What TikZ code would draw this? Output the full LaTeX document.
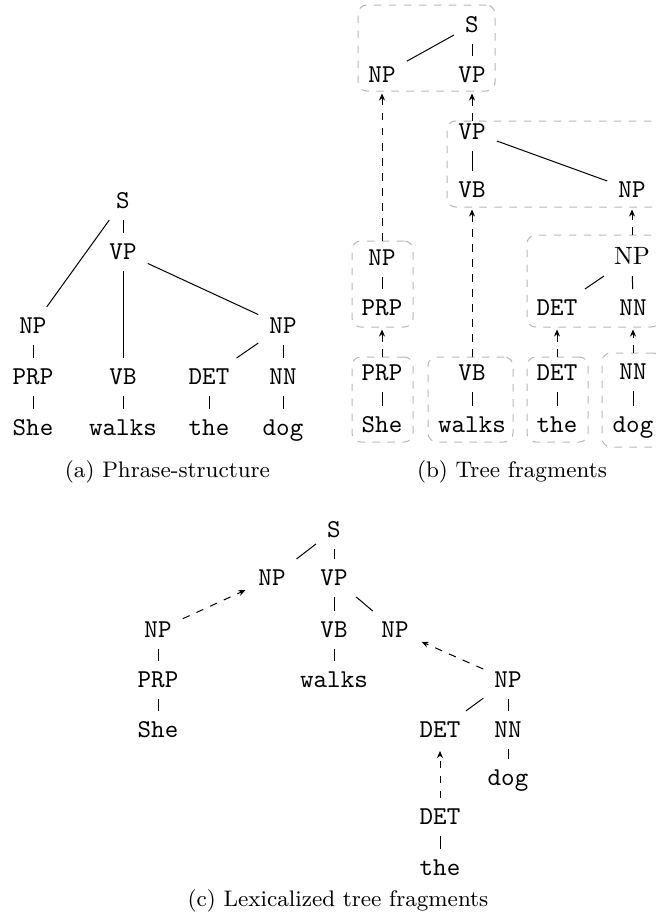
\documentclass[tikz,border=0pt]{standalone}
\usetikzlibrary{arrows.meta,fit}
\begin{document}
\begin{tikzpicture}[x=0.4pt,y=-0.4pt,
  tn/.style={font=\fontsize{10.3}{12}\selectfont\ttfamily, inner sep=4.3pt, text height=6.2pt, text depth=0pt},
  rn/.style={tn, font=\fontsize{10}{12}\selectfont\rmfamily},
  edge/.style={line width=0.4pt},
  darr/.style={line width=0.4pt, dashed, -{Stealth[length=2.8pt,width=2.4pt,inset=0.9pt]}, shorten >=0.8pt},
  fbox/.style={draw=black!28, line width=0.4pt, dashed, rounded corners=3.5pt, inner sep=0pt},
  captext/.style={font=\fontsize{9}{11}\selectfont, anchor=base}]
\useasboundingbox (0,0) rectangle (655,920);

% ---------- (a) ----------
\node[tn] (aS) at (123,201) {S};
\node[tn] (aVP) at (123,252) {VP};
\node[tn] (aNP1) at (33,326) {NP};
\node[tn] (aNP2) at (283,326) {NP};
\node[tn] (aPRP) at (33,377) {PRP};
\node[tn] (aVB) at (123,377) {VB};
\node[tn] (aDET) at (209,377) {DET};
\node[tn] (aNN) at (283,377) {NN};
\node[tn] (aShe) at (33,428) {She};
\node[tn] (awalks) at (123,428) {walks};
\node[tn] (athe) at (209,428) {the};
\node[tn] (adog) at (283,428) {dog};
\draw[edge] (aS) -- (aNP1);
\draw[edge] (aS) -- (aVP);
\draw[edge] (aVP) -- (aVB);
\draw[edge] (aVP) -- (aNP2);
\draw[edge] (aNP1) -- (aPRP);
\draw[edge] (aPRP) -- (aShe);
\draw[edge] (aVB) -- (awalks);
\draw[edge] (aNP2) -- (aDET);
\draw[edge] (aNP2) -- (aNN);
\draw[edge] (aDET) -- (athe);
\draw[edge] (aNN) -- (adog);
\node[captext] (capa) at (167.5,477) {(a) Phrase-structure};

% ---------- (b) ----------
\node[tn] (bS) at (472,25) {S};
\node[tn] (bNPt) at (382,75) {NP};
\node[tn] (bVPt) at (472,75) {VP};
\node[tn] (bVPm) at (472,132) {VP};
\node[tn] (bVBm) at (472,190) {VB};
\node[tn] (bNPm) at (632,190) {NP};
\node[tn] (bNPl) at (382,258) {NP};
\node[tn] (bPRPl) at (382,308) {PRP};
\node[tn] (bPRPw) at (382,373) {PRP};
\node[tn] (bShe) at (382,425) {She};
\node[tn] (bVBw) at (472,373) {VB};
\node[tn] (bwalks) at (472,425) {walks};
\node[rn] (bNPg) at (632,257) {NP};
\node[tn] (bDETg) at (557,308) {DET};
\node[tn] (bNNg) at (633,308) {NN};
\node[tn] (bDETw) at (557,373) {DET};
\node[tn] (bthe) at (557,425) {the};
\node[tn] (bNNw) at (633,372) {NN};
\node[tn] (bdog) at (633,425) {dog};

\node[fbox, fit={(358,5) (495,91)}] (B1) {};
\node[fbox, fit={(447,121) (660,207)}] (B2) {};
\node[fbox, fit={(352,241) (413,327)}] (B3) {};
\node[fbox, fit={(352,357) (413,442)}] (B4) {};
\node[fbox, fit={(428,357) (513,442)}] (B5) {};
\node[fbox, fit={(527,235) (660,327)}] (B6) {};
\node[fbox, fit={(527,357) (588,442)}] (B7) {};
\node[fbox, fit={(602,353) (662,447)}] (B8) {};

\draw[edge] (bS) -- (bNPt);
\draw[edge] (bS) -- (bVPt);
\draw[edge] (bVPm) -- (bVBm);
\draw[edge] (bVPm) -- (bNPm);
\draw[edge] (bNPl) -- (bPRPl);
\draw[edge] (bPRPw) -- (bShe);
\draw[edge] (bVBw) -- (bwalks);
\draw[edge] (bNPg) -- (bDETg);
\draw[edge] (bNPg) -- (bNNg);
\draw[edge] (bDETw) -- (bthe);
\draw[edge] (bNNw) -- (bdog);

\draw[darr] (bNPl |- B3.north) -- (bNPt |- B1.south);
\draw[darr] (bVPm |- B2.north) -- (bVPt |- B1.south);
\draw[darr] (bPRPw |- B4.north) -- (bPRPl |- B3.south);
\draw[darr] (bVBw |- B5.north) -- (bVBm |- B2.south);
\draw[darr] (bNPg |- B6.north) -- (bNPm |- B2.south);
\draw[darr] (bDETw |- B7.north) -- (bDETg |- B6.south);
\draw[darr] (bNNw |- B8.north) -- (bNNg |- B6.south);
\node[captext] (capb) at (512,477) {(b) Tree fragments};

% ---------- (c) ----------
\node[tn] (cS) at (334,530) {S};
\node[tn] (cNP1) at (272,578) {NP};
\node[tn] (cVP) at (334,578) {VP};
\node[tn] (cNP2) at (158,630) {NP};
\node[tn] (cVB) at (334,630) {VB};
\node[tn] (cNP3) at (395,630) {NP};
\node[tn] (cPRP) at (158,680) {PRP};
\node[tn] (cwalks) at (334,680) {walks};
\node[tn] (cNP4) at (508,680) {NP};
\node[tn] (cShe) at (158,730) {She};
\node[tn] (cDET1) at (440,730) {DET};
\node[tn] (cNN) at (508,730) {NN};
\node[tn] (cdog) at (508,778) {dog};
\node[tn] (cDET2) at (440,817) {DET};
\node[tn] (cthe) at (440,868) {the};

\draw[edge] (cS) -- (cNP1);
\draw[edge] (cS) -- (cVP);
\draw[edge] (cVP) -- (cVB);
\draw[edge] (cVP) -- (cNP3);
\draw[edge] (cVB) -- (cwalks);
\draw[edge] (cNP2) -- (cPRP);
\draw[edge] (cPRP) -- (cShe);
\draw[edge] (cNP4) -- (cDET1);
\draw[edge] (cNP4) -- (cNN);
\draw[edge] (cNN) -- (cdog);
\draw[edge] (cDET2) -- (cthe);
\draw[darr] (cNP2) -- (cNP1);
\draw[darr] (cNP4) -- (cNP3);
\draw[darr] (cDET2) -- (cDET1);
\node[captext] (capc) at (338,906) {(c) Lexicalized tree fragments};
\end{tikzpicture}
\end{document}
